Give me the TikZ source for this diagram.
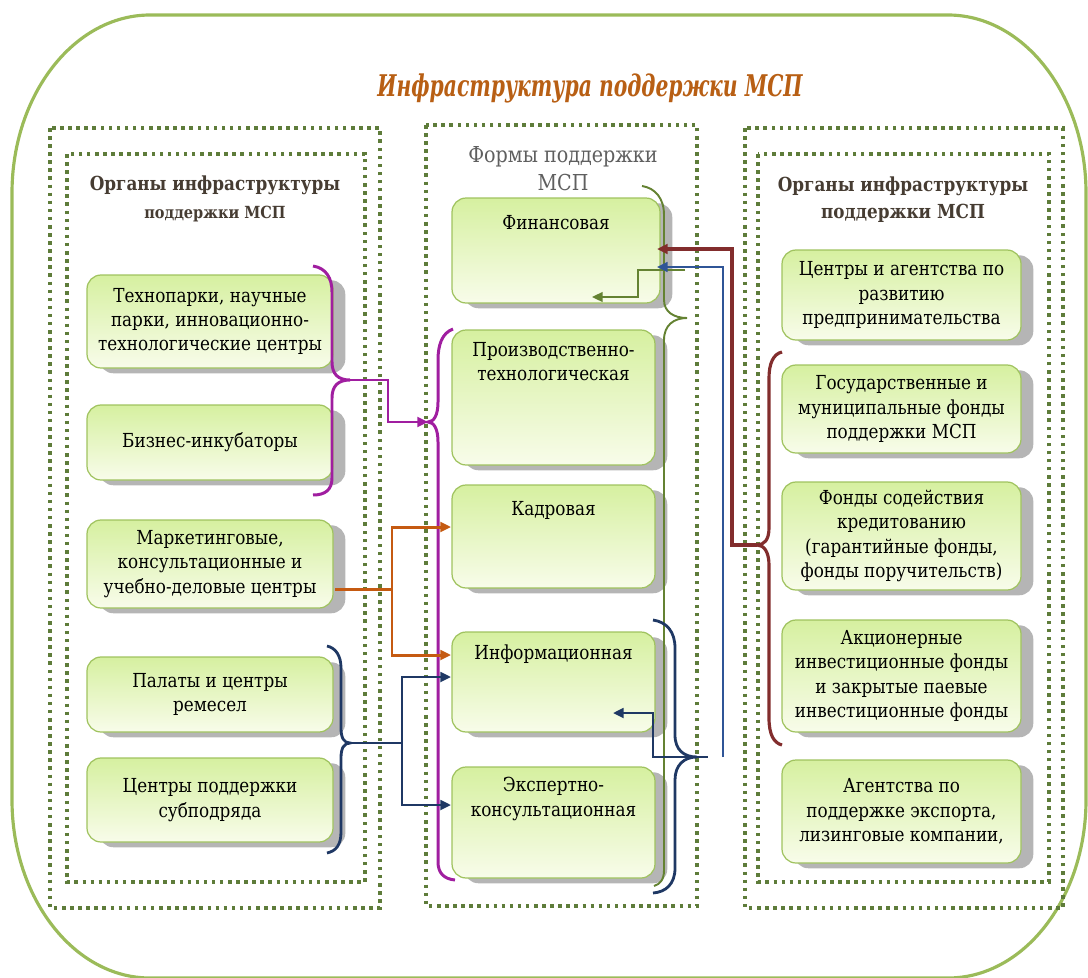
\documentclass[tikz,border=0pt]{standalone}
\usepackage{fontspec}
\setmainfont{DejaVu Serif}[FakeStretch=0.87]
\newfontfamily\titlefont{DejaVu Serif}[FakeStretch=0.68]
\usetikzlibrary{arrows.meta,shadows}
\definecolor{frame}{RGB}{155,187,89}
\definecolor{dotgreen}{RGB}{94,124,58}
\definecolor{boxline}{RGB}{160,195,95}
\definecolor{boxtop}{RGB}{214,240,160}
\definecolor{boxbot}{RGB}{248,252,234}
\definecolor{shadowgray}{RGB}{150,150,150}
\definecolor{titlecol}{RGB}{184,95,20}
\definecolor{headcol}{RGB}{70,60,50}
\definecolor{headgray}{RGB}{95,95,95}
\definecolor{cpurple}{RGB}{160,30,160}
\definecolor{corange}{RGB}{197,90,17}
\definecolor{cnavy}{RGB}{31,56,100}
\definecolor{cmaroon}{RGB}{130,45,45}
\definecolor{cblue}{RGB}{47,85,151}
\definecolor{colive}{RGB}{100,130,50}
\begin{document}
\begin{tikzpicture}[x=0.02cm,y=-0.02cm,
  gbox/.style={draw=boxline, line width=0.7pt, rounded corners=8pt,
    top color=boxtop, bottom color=boxbot,
    drop shadow={shadow xshift=7pt, shadow yshift=-3pt, fill=shadowgray, opacity=0.7},
    align=center, inner sep=0pt, font=\fontsize{11}{13.9}\selectfont},
  sz/.style 2 args={minimum width=#1*0.02cm, minimum height=#2*0.02cm},
  dotbox/.style={draw=dotgreen, line width=2pt, dash pattern=on 2pt off 2.6pt},
  head/.style={align=center, inner sep=0pt, text=headcol, font=\bfseries\fontsize{11}{15.3}\selectfont},
  arr/.style={-{Triangle[length=6pt,width=5.5pt]}},
  pline/.style={draw=cpurple, line width=1.7pt},
  oline/.style={draw=corange, line width=1.7pt},
  nline/.style={draw=cnavy, line width=1.6pt},
  mline/.style={draw=cmaroon, line width=1.8pt},
  bline/.style={draw=cblue, line width=1.3pt},
  olline/.style={draw=colive, line width=1.1pt}
]
\useasboundingbox (0,0) rectangle (1088,977);
\clip (0,0) rectangle (1088,977);

% outer frame
\draw[frame, line width=1.8pt] (150,15) -- (948,15)
  .. controls (1024,15) and (1086,95) .. (1086,193) -- (1086,800)
  .. controls (1086,898) and (1024,978) .. (948,978) -- (150,978)
  .. controls (74,978) and (12,898) .. (12,800) -- (12,193)
  .. controls (12,95) and (74,15) .. (150,15) -- cycle;

% title
\node[text=titlecol, font=\titlefont\bfseries\itshape\fontsize{17}{20}\selectfont] (title) at (590,88) {Инфраструктура поддержки МСП};

% dotted containers
\draw[dotbox] (50,128) rectangle (380,908);
\draw[dotbox] (67,154) rectangle (365,882);
\draw[dotbox] (426,125) rectangle (697,906);
\draw[dotbox] (745,128) rectangle (1063,908);
\draw[dotbox] (758,154) rectangle (1049,882);

% headings
\node[head] (lhead) at (215,199) {Органы инфраструктуры\\[1pt]{\fontsize{9.5}{13}\selectfont поддержки МСП}};
\node[head, text=headgray, font=\fontsize{12.5}{16}\selectfont] (chead) at (563,169) {Формы поддержки\\МСП};
\node[head] (rhead) at (903,200) {Органы инфраструктуры\\поддержки МСП};

% left boxes
\node[gbox, sz={246}{93}] (tp) at (210,321.5) {Технопарки, научные\\парки, инновационно-\\технологические центры};
\node[gbox, sz={246}{75}] (bi) at (210,442.5) {Бизнес-инкубаторы};
\node[gbox, sz={246}{88}] (mk) at (210,564) {Маркетинговые,\\консультационные и\\учебно-деловые центры};
\node[gbox, sz={246}{75}] (pl) at (210,694.5) {Палаты и центры\\ремесел};
\node[gbox, sz={246}{84}] (cs) at (210,800) {Центры поддержки\\субподряда};

% center boxes
\node[gbox] (fin) at (556,250.5) {\parbox[c][2.1cm][t]{4.16cm}{\centering\vspace*{10pt}Финансовая}};
\node[gbox] (pr) at (553.5,397.5) {\parbox[c][2.7cm][t]{4.06cm}{\centering\vspace*{7pt}Производственно-\\технологическая}};
\node[gbox] (kad) at (553.5,536.5) {\parbox[c][2.06cm][t]{4.06cm}{\centering\vspace*{9.5pt}Кадровая}};
\node[gbox] (inf) at (553.5,682) {\parbox[c][2.0cm][t]{4.06cm}{\centering\vspace*{7.5pt}Информационная}};
\node[gbox] (exp) at (553.5,822.5) {\parbox[c][2.22cm][t]{4.06cm}{\centering\vspace*{6pt}Экспертно-\\консультационная}};

% right boxes
\node[gbox, sz={239}{90}] (r1) at (901.5,295) {Центры и агентства по\\развитию\\предпринимательства};
\node[gbox, sz={239}{88}] (r2) at (901.5,409) {Государственные и\\муниципальные фонды\\поддержки МСП};
\node[gbox, sz={239}{108}] (r3) at (901.5,536) {Фонды содействия\\кредитованию\\(гарантийные фонды,\\фонды поручительств)};
\node[gbox, sz={239}{112}] (r4) at (901.5,676) {Акционерные\\инвестиционные фонды\\и закрытые паевые\\инвестиционные фонды};
\node[gbox, sz={239}{103}] (r5) at (901.5,811.5) {Агентства по\\поддержке экспорта,\\лизинговые компании,};

% connection points
\coordinate (pbt) at (350,380);
\coordinate (pbb) at (428,422);
\coordinate (mo) at (335,589);
\coordinate (ko) at (451,527);
\coordinate (io) at (451,655);
\coordinate (nbt) at (350,743);
\coordinate (ia) at (451,677);
\coordinate (ea) at (451,805);
\coordinate (mbt) at (757,545);
\coordinate (fm) at (657,249);
\coordinate (bfree) at (723,757);
\coordinate (fb) at (657,267);
\coordinate (rbt) at (697,757);
\coordinate (ia2) at (613,713);
\coordinate (obt) at (685,270);
\coordinate (fo) at (592,297);

% purple braces and connector
\draw[pline] (313,266) .. controls (326,268) and (332,278) .. (332,292) -- (332,362)
  .. controls (332,374) and (338,380) .. (pbt) .. controls (338,380) and (332,386) .. (332,398)
  -- (332,478) .. controls (332,490) and (325,495) .. (313,495);
\draw[pline] (453,329) .. controls (442,333) and (438,345) .. (438,360) -- (438,402)
  .. controls (438,415) and (434,422) .. (pbb) .. controls (434,422) and (438,429) .. (438,442)
  -- (438,862) .. controls (438,873) and (444,879) .. (455,880);
\draw[pline, arr] (pbt) -- ++(38,0) |- (pbb);

% orange connector
\draw[oline] (mo) -- ++(57,0) coordinate (oj);
\draw[oline, arr] (oj) |- (ko);
\draw[oline, arr] (oj) |- (io);

% navy left brace and connector
\draw[nline] (327,646) .. controls (336,648) and (341,656) .. (341,668) -- (341,728)
  .. controls (341,738) and (344,743) .. (nbt) .. controls (344,743) and (341,748) .. (341,758)
  -- (341,832) .. controls (341,845) and (336,851) .. (327,853);
\draw[nline] (nbt) -- ++(52,0) coordinate (nj);
\draw[nline, arr] (nj) |- (ia);
\draw[nline, arr] (nj) |- (ea);

% olive brace and connector
\draw[olline] (642,186) .. controls (655,188) and (664,198) .. (664,215) -- (664,300)
  .. controls (664,312) and (674,318) .. (687,318) .. controls (674,318) and (664,325) .. (664,340)
  -- (664,870) .. controls (664,880) and (660,884) .. (654,886);
\draw[olline, arr] (obt) -- ++(-47,0) |- (fo);

% maroon brace and connector
\draw[mline] (782,352) .. controls (773,354) and (769,364) .. (769,378) -- (769,528)
  .. controls (769,540) and (764,545) .. (mbt) .. controls (764,545) and (769,552) .. (769,565)
  -- (769,718) .. controls (769,735) and (774,743) .. (782,745);
\draw[mline, arr] (mbt) -- ++(-25,0) |- (fm);

% blue connector
\draw[bline, arr] (bfree) |- (fb);

% navy right brace and connector
\draw[nline] (653,620) .. controls (667,622) and (675,632) .. (675,648) -- (675,735)
  .. controls (675,750) and (684,757) .. (rbt) .. controls (684,757) and (675,765) .. (675,780)
  -- (675,868) .. controls (675,884) and (666,892) .. (653,893);
\draw[nline] (rbt) -- ++(11,0);
\draw[nline, arr] (rbt) -- ++(-44,0) |- (ia2);
\end{tikzpicture}
\end{document}
